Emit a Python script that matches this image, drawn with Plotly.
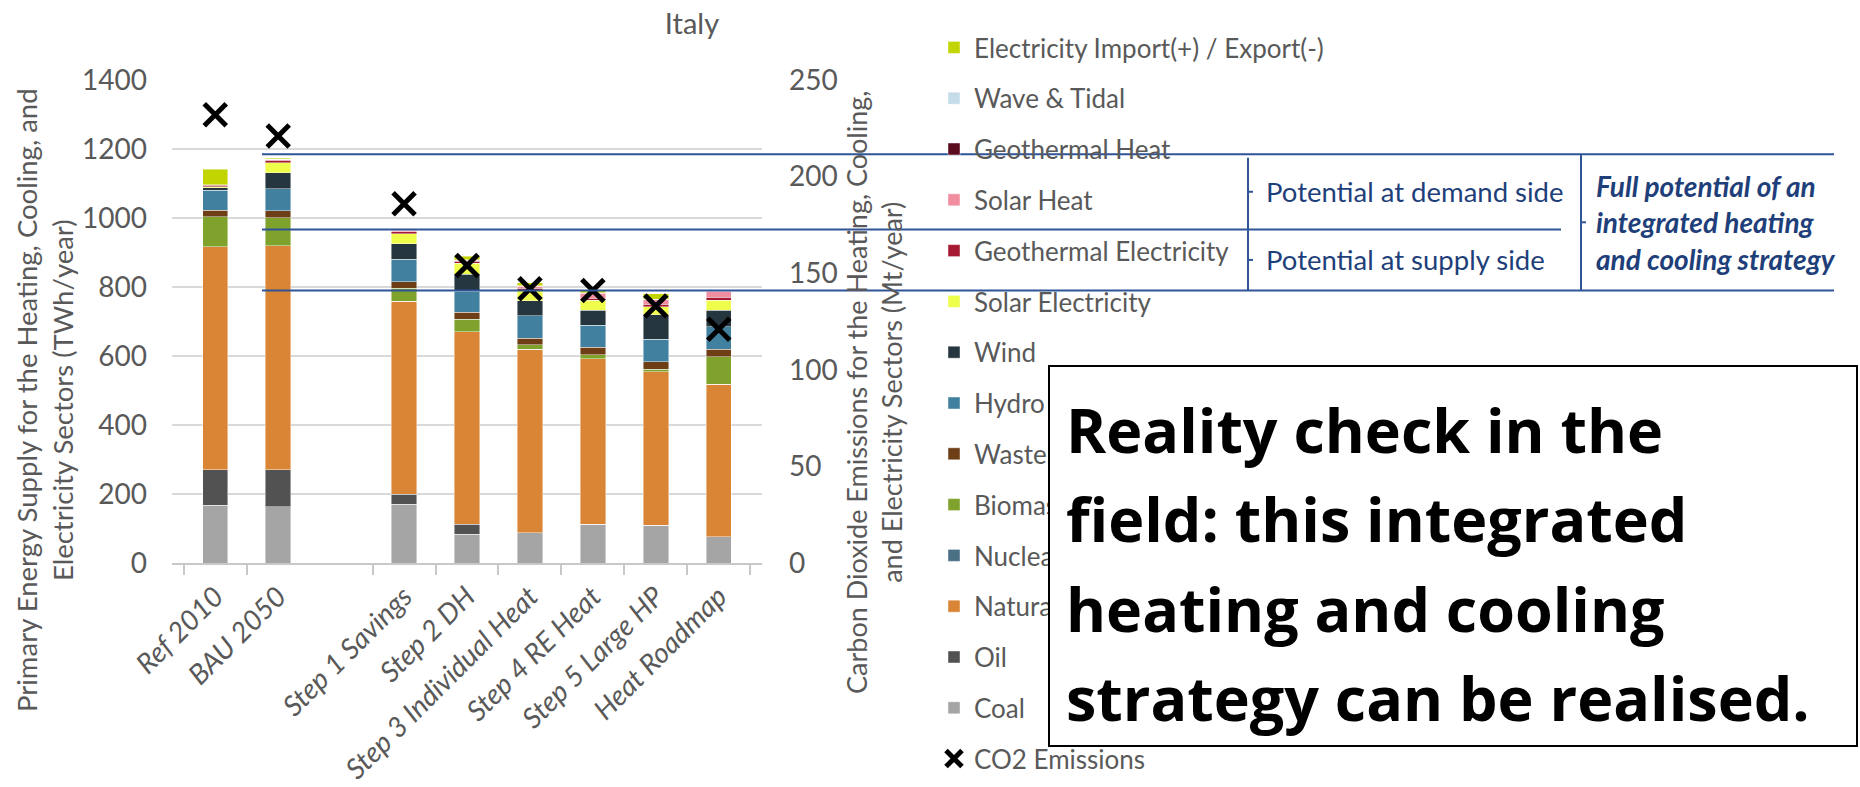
import plotly.graph_objects as go

W, H = 1860, 787

categories = ["Ref 2010", "BAU 2050", " ", "Step 1 Savings", "Step 2 DH",
              "Step 3 Individual Heat", "Step 4 RE Heat", "Step 5 Large HP", "Heat Roadmap"]

coal = [168, 163, None, 170, 84, 88, 113, 110, 76]
oil = [103, 107, None, 29, 29, 0, 0, 0, 0]
natural_gas = [646, 649, None, 560, 557, 531, 479, 444, 442]
nuclear = [0, 0, None, 0, 0, 0, 0, 0, 0]
biomass = [87, 82, None, 37, 37, 13, 12, 8, 80]
waste = [19, 20, None, 19, 20, 19, 21, 21, 21]
hydro = [58, 64, None, 66, 61, 66, 64, 66, 66]
wind = [7, 46, None, 44, 49, 43, 44, 70, 48]
solar_electricity = [2, 29, None, 29, 32, 31, 29, 24, 29]
geothermal_electricity = [5, 7, None, 6, 5, 5, 5, 7, 9]
solar_heat = [1, 3, None, 4, 4, 6, 15, 13, 16]
geothermal_heat = [1, 1, None, 2, 1, 2, 2, 1, 2]
wave_tidal = [0, 0, None, 0, 0, 0, 0, 0, 0]
electricity_import = [45, 2, None, 3, 10, 8, 8, 16, 2]

co2_emissions = [232, 221, None, 186, 154, 142, 141, 133, 121]

# levels of the potential markers (TWh/year)
potential_levels = [1185, 967, 790]

left_ticks = [0, 200, 400, 600, 800, 1000, 1200, 1400]
right_ticks = [0, 50, 100, 150, 200, 250]
x_tick_labels = [c for c in categories if c.strip()]

series = [
    ("Coal", coal, "#a5a5a5"),
    ("Oil", oil, "#525252"),
    ("Natural Gas", natural_gas, "#d98535"),
    ("Nuclear", nuclear, "#4a7086"),
    ("Biomass", biomass, "#7fa22c"),
    ("Waste", waste, "#6e3f17"),
    ("Hydro", hydro, "#41819f"),
    ("Wind", wind, "#25363f"),
    ("Solar Electricity", solar_electricity, "#effe4a"),
    ("Geothermal Electricity", geothermal_electricity, "#a51a32"),
    ("Solar Heat", solar_heat, "#f08ea0"),
    ("Geothermal Heat", geothermal_heat, "#5a0c1e"),
    ("Wave & Tidal", wave_tidal, "#c5dde9"),
    ("Electricity Import(+) / Export(-)", electricity_import, "#c3d500"),
]

GRAY = "#595959"
FONT = "Lato"
BLUE_LINE = "#2f5597"
BLUE_TEXT = "#1f3f7a"

fig = go.Figure()
n = len(series)
for i, (name, vals, col) in enumerate(series):
    fig.add_trace(go.Bar(
        x=categories, y=vals, name=name,
        marker=dict(color=col, line=dict(color="rgba(255,255,255,0.55)", width=0.8)),
        legendgroup=name, legendrank=n - i,
    ))

fig.add_trace(go.Scatter(
    x=categories, y=co2_emissions, name="CO2 Emissions", yaxis="y2",
    mode="markers",
    marker=dict(symbol="x-thin", size=22, color="black", line=dict(color="black", width=5)),
    legendgroup="co2", legendrank=n + 1,
))

def px_x(p):
    return p / W

def px_y(p):
    return 1 - p / H

x0d, x1d = px_x(172), px_x(762)
y0d, y1d = px_y(563), px_y(80)

fig.update_layout(
    width=W, height=H,
    margin=dict(l=0, r=0, t=0, b=0),
    paper_bgcolor="white", plot_bgcolor="white",
    barmode="stack", bargap=0.595,
    font=dict(family=FONT, color=GRAY),
    title=dict(text="Italy", x=px_x(692), xanchor="center", y=px_y(24), yanchor="middle",
               font=dict(family=FONT, size=29, color=GRAY)),
    xaxis=dict(domain=[x0d, x1d], type="category", tickangle=-45,
               categoryorder="array", categoryarray=categories,
               tickmode="array", tickvals=x_tick_labels, ticktext=x_tick_labels,
               tickfont=dict(family=FONT, size=28, color=GRAY, style="italic"),
               showline=True, linecolor="#c8c8c8", linewidth=2,
               ticks="outside", tickson="boundaries", ticklen=10, tickcolor="#c8c8c8", tickwidth=2,
               showgrid=False, automargin=False, ticklabelstandoff=4),
    yaxis=dict(domain=[y0d, y1d], range=[0, 1400], tickvals=left_ticks,
               showgrid=True, gridcolor="#d9d9d9", gridwidth=2, zeroline=False,
               tickfont=dict(family=FONT, size=28, color=GRAY),
               ticks="", ticklabelstandoff=24, automargin=False),
    yaxis2=dict(overlaying="y", side="right", range=[0, 250], tickvals=right_ticks,
                showgrid=False, zeroline=False,
                tickfont=dict(family=FONT, size=28, color=GRAY),
                ticks="", ticklabelstandoff=26, automargin=False),
    legend=dict(x=px_x(934), xanchor="left", y=px_y(24), yanchor="top",
                traceorder="grouped", tracegroupgap=14,
                bgcolor="rgba(0,0,0,0)",
                font=dict(family=FONT, size=26, color=GRAY)),
    showlegend=True,
)

shapes = []
line_style = dict(color=BLUE_LINE, width=2)
# horizontal potential lines
shapes.append(dict(type="line", xref="paper", yref="y", x0=px_x(262), x1=px_x(1834),
                   y0=potential_levels[0], y1=potential_levels[0], line=line_style))
shapes.append(dict(type="line", xref="paper", yref="y", x0=px_x(262), x1=px_x(1561),
                   y0=potential_levels[1], y1=potential_levels[1], line=line_style))
shapes.append(dict(type="line", xref="paper", yref="y", x0=px_x(262), x1=px_x(1834),
                   y0=potential_levels[2], y1=potential_levels[2], line=line_style))
# bracket 1
shapes.append(dict(type="line", xref="paper", yref="y", x0=px_x(1248), x1=px_x(1248),
                   y0=potential_levels[0] - 10, y1=potential_levels[2], line=line_style))
for a, b in [(0, 1), (1, 2)]:
    mid = (potential_levels[a] + potential_levels[b]) / 2
    shapes.append(dict(type="line", xref="paper", yref="y", x0=px_x(1248), x1=px_x(1253),
                       y0=mid, y1=mid, line=line_style))
# bracket 2
shapes.append(dict(type="line", xref="paper", yref="y", x0=px_x(1581), x1=px_x(1581),
                   y0=potential_levels[0], y1=potential_levels[2], line=line_style))
mid_all = (potential_levels[0] + potential_levels[2]) / 2
shapes.append(dict(type="line", xref="paper", yref="y", x0=px_x(1581), x1=px_x(1586),
                   y0=mid_all, y1=mid_all, line=line_style))
fig.update_layout(shapes=shapes)

ann = []
ann.append(dict(text="Primary Energy Supply for the Heating, Cooling, and<br>Electricity Sectors (TWh/year)",
                xref="paper", yref="paper", x=px_x(44), y=px_y(400), xanchor="center", yanchor="middle",
                textangle=-90, showarrow=False, font=dict(family=FONT, size=27.5, color=GRAY)))
ann.append(dict(text="Carbon Dioxide Emissions for the Heating, Cooling,<br>and Electricity Sectors (Mt/year)",
                xref="paper", yref="paper", x=px_x(874), y=px_y(393), xanchor="center", yanchor="middle",
                textangle=-90, showarrow=False, font=dict(family=FONT, size=27, color=GRAY)))
ann.append(dict(text="Potential at demand side", xref="paper", yref="y", x=px_x(1264),
                y=(potential_levels[0] + potential_levels[1]) / 2, xanchor="left", yanchor="middle",
                showarrow=False, font=dict(family=FONT, size=27.5, color=BLUE_TEXT)))
ann.append(dict(text="Potential at supply side", xref="paper", yref="y", x=px_x(1264),
                y=(potential_levels[1] + potential_levels[2]) / 2, xanchor="left", yanchor="middle",
                showarrow=False, font=dict(family=FONT, size=27.5, color=BLUE_TEXT)))
ann.append(dict(text="<b><i>Full potential of an<br>integrated heating<br>and cooling strategy</i></b>",
                xref="paper", yref="y", x=px_x(1594), y=mid_all, xanchor="left", yanchor="middle",
                align="left", showarrow=False, font=dict(family=FONT, size=28, color=BLUE_TEXT)))
# white box with black border covering part of the legend
ann.append(dict(text=" ", xref="paper", yref="paper", x=px_x(1048), y=px_y(365),
                xanchor="left", yanchor="top", width=806, height=378, borderpad=0,
                bgcolor="white", bordercolor="black", borderwidth=2, showarrow=False,
                font=dict(size=10)))
box_lines = ["Reality check in the", "field: this integrated",
             "heating and cooling", "strategy can be realised."]
for k, t in enumerate(box_lines):
    ann.append(dict(text="<b>" + t + "</b>", xref="paper", yref="paper", x=px_x(1064),
                    y=px_y(429 + 89.5 * k), xanchor="left", yanchor="middle", showarrow=False,
                    font=dict(family="Open Sans", size=61, color="black")))
fig.update_layout(annotations=ann)

fig.write_html("out.html", config={"displayModeBar": False},
               post_script="document.body.style.margin='0';document.body.style.overflow='hidden';")
